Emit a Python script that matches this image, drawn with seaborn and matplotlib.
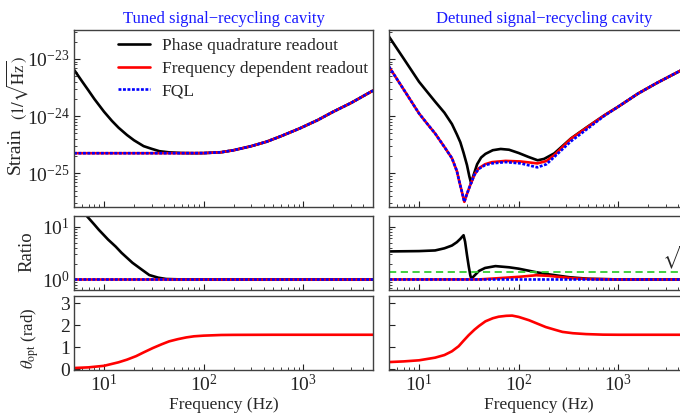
import matplotlib
matplotlib.use('Agg')
import numpy as np
import seaborn as sns
import matplotlib.pyplot as plt
from matplotlib.ticker import LogLocator, NullFormatter, FixedLocator

sns.set_theme(style='ticks')
plt.rcParams['font.family'] = ['Liberation Serif', 'DejaVu Serif']
plt.rcParams['mathtext.fontset'] = 'stix'

# ---- strain, tuned cavity ----
tuned_f_phase = [5, 6, 7, 8, 10, 12, 14, 17, 20, 25, 30, 36, 45, 60, 80, 100, 150, 200, 300, 430, 600, 935, 1400, 2000, 3000, 5000]
tuned_phase = [6.5e-24, 4.1e-24, 2.8e-24, 2.0e-24, 1.2e-24, 8.3e-25, 6.3e-25, 4.7e-25, 3.8e-25, 3.0e-25, 2.7e-25, 2.45e-25,
               2.34e-25, 2.28e-25, 2.26e-25, 2.27e-25, 2.35e-25, 2.55e-25, 3.0e-25, 3.6e-25, 4.5e-25, 6.2e-25, 8.6e-25,
               1.2e-24, 1.7e-24, 2.8e-24]
tuned_f = [5, 10, 20, 50, 100, 150, 200, 300, 430, 600, 935, 1400, 2000, 3000, 5000]
tuned_fdr = [2.26e-25, 2.26e-25, 2.26e-25, 2.26e-25, 2.27e-25, 2.35e-25, 2.55e-25, 3.0e-25, 3.6e-25, 4.5e-25, 6.2e-25,
             8.6e-25, 1.2e-24, 1.7e-24, 2.8e-24]
tuned_fql = [2.26e-25, 2.26e-25, 2.26e-25, 2.26e-25, 2.27e-25, 2.35e-25, 2.55e-25, 3.0e-25, 3.6e-25, 4.5e-25, 6.2e-25,
             8.6e-25, 1.2e-24, 1.7e-24, 2.8e-24]

# ---- strain, detuned cavity ----
det_f_phase = [5, 7, 10, 12, 14.5, 18, 21.4, 24, 26, 28, 30.3, 32, 33.3, 35, 38.3, 42, 46.4, 55, 66, 80, 100, 125, 155,
               180, 228, 335, 500, 726, 1000, 1585, 2500, 5000]
det_phase = [2.45e-23, 1.02e-23, 4.0e-24, 2.7e-24, 1.8e-24, 1.15e-24, 7.3e-25, 4.8e-25, 3.5e-25, 2.3e-25, 1.4e-25, 8.9e-26,
             6.8e-26, 9.0e-26, 1.45e-25, 1.9e-25, 2.2e-25, 2.55e-25, 2.68e-25, 2.6e-25, 2.28e-25, 1.95e-25, 1.7e-25,
             1.8e-25, 2.25e-25, 4.1e-25, 6.7e-25, 1.04e-24, 1.47e-24, 2.5e-24, 3.9e-24, 7.3e-24]
det_f = [5, 7, 10, 12, 14.5, 18, 21.4, 24, 25.4, 27, 28.5, 30, 32.7, 36, 39.7, 46, 54, 74, 105, 154, 190, 228, 335, 500,
         726, 1000, 1585, 2500, 5000]
det_fdr = [7.3e-24, 2.95e-24, 1.12e-24, 7.5e-25, 5.0e-25, 2.9e-25, 1.85e-25, 1.1e-25, 7.2e-26, 4.7e-26, 3.2e-26, 4.2e-26,
           6.3e-26, 9.5e-26, 1.23e-25, 1.45e-25, 1.58e-25, 1.66e-25, 1.62e-25, 1.5e-25, 1.65e-25, 2.1e-25, 4.05e-25,
           6.6e-25, 1.04e-24, 1.47e-24, 2.5e-24, 3.9e-24, 7.3e-24]
det_fql = [7.3e-24, 2.95e-24, 1.12e-24, 7.5e-25, 5.0e-25, 2.9e-25, 1.85e-25, 1.1e-25, 7.2e-26, 4.7e-26, 3.2e-26, 4.2e-26,
           6.3e-26, 9.5e-26, 1.2e-25, 1.4e-25, 1.5e-25, 1.58e-25, 1.5e-25, 1.28e-25, 1.45e-25, 1.95e-25, 3.65e-25,
           6.2e-25, 1.02e-24, 1.47e-24, 2.5e-24, 3.9e-24, 7.3e-24]

# ---- ratio to FQL ----
tuned_rf_phase = [5, 6, 6.6, 8, 8.9, 10, 11, 13.1, 15, 19.3, 24, 28.5, 35, 42, 50, 60, 100, 1000, 5000]
tuned_r_phase = [30, 20, 16.6, 11, 8.7, 6.9, 5.7, 4.2, 3.2, 2.07, 1.53, 1.21, 1.08, 1.02, 1.01, 1.0, 1.0, 1.0, 1.0]
tuned_rf = [5, 5000]
tuned_r_fdr = [1.0, 1.0]
tuned_r_fql = [1.0, 1.0]

det_rf_phase = [5, 10, 14.5, 18, 21.4, 24, 26, 27, 28, 29, 30.3, 31.5, 32.7, 33.5, 35, 40, 46, 58.5, 80, 100, 147, 200,
                323, 500, 1000, 5000]
det_r_phase = [3.4, 3.45, 3.55, 3.9, 4.4, 5.1, 5.9, 6.4, 6.9, 5.2, 2.9, 1.8, 1.2, 1.03, 1.12, 1.45, 1.65, 1.79, 1.7,
               1.6, 1.38, 1.25, 1.1, 1.03, 1.0, 1.0]
det_rf_fdr = [5, 40, 60, 100, 150, 200, 250, 350, 500, 1000, 5000]
det_r_fdr = [1.0, 1.0, 1.05, 1.12, 1.2, 1.17, 1.12, 1.05, 1.02, 1.0, 1.0]
det_rf_fql = [5, 5000]
det_r_fql = [1.0, 1.0]
sqrt2_level = np.sqrt(2)

# ---- optimal readout angle ----
tuned_tf = [5, 7, 10, 14, 17, 21, 25, 31, 38, 45, 55, 67, 80, 100, 150, 200, 500, 5000]
tuned_theta = [0.06, 0.09, 0.16, 0.32, 0.44, 0.6, 0.77, 0.97, 1.14, 1.27, 1.37, 1.45, 1.5, 1.53, 1.56, 1.565, 1.57, 1.57]
det_tf = [5, 7, 10, 14.5, 18, 21.4, 25, 28, 31.5, 36, 40, 46.4, 55, 63, 75, 86, 100, 127, 155, 187, 230, 275, 350, 475,
          700, 1000, 5000]
det_theta = [0.33, 0.36, 0.41, 0.53, 0.65, 0.82, 1.05, 1.3, 1.55, 1.8, 1.97, 2.18, 2.32, 2.39, 2.43, 2.44, 2.38, 2.23,
             2.07, 1.92, 1.8, 1.7, 1.64, 1.6, 1.575, 1.57, 1.57]

# tick positions
freq_ticks = [10, 100, 1000]
strain_ticks = [1e-25, 1e-24, 1e-23]
ratio_ticks = [1, 10]
theta_ticks = [0, 1, 2, 3]

titles = ['Tuned signal\u2212recycling cavity', 'Detuned signal\u2212recycling cavity']
legend_labels = ['Phase quadrature readout', 'Frequency dependent readout', 'FQL']

fig = plt.figure(figsize=(6.8, 4.15), dpi=100)
W, H = 680, 415
lefts = [74, 389]
aw = 299
rows = [(30, 207), (216, 290), (296, 370)]
axes = [[fig.add_axes([l / W, 1 - b / H, aw / W, (b - t) / H]) for (t, b) in rows] for l in lefts]

blue_dots = (0, (1.1, 0.6))
lw = 1.9

strain = [(tuned_f_phase, tuned_phase, tuned_f, tuned_fdr, tuned_f, tuned_fql),
          (det_f_phase, det_phase, det_f, det_fdr, det_f, det_fql)]
ratio = [(tuned_rf_phase, tuned_r_phase, tuned_rf, tuned_r_fdr, tuned_rf, tuned_r_fql),
         (det_rf_phase, det_r_phase, det_rf_fdr, det_r_fdr, det_rf_fql, det_r_fql)]
theta = [(tuned_tf, tuned_theta), (det_tf, det_theta)]

for c in range(2):
    a0, a1, a2 = axes[c]
    for ax, d in ((a0, strain[c]), (a1, ratio[c])):
        ax.set_xscale('log')
        ax.set_yscale('log')
        sns.lineplot(x=d[0], y=d[1], ax=ax, color='black', lw=lw, label=legend_labels[0])
        sns.lineplot(x=d[2], y=d[3], ax=ax, color='red', lw=lw, label=legend_labels[1])
        sns.lineplot(x=d[4], y=d[5], ax=ax, color='blue', lw=lw, linestyle=blue_dots, label=legend_labels[2])
    a2.set_xscale('log')
    sns.lineplot(x=theta[c][0], y=theta[c][1], ax=a2, color='red', lw=lw)

    a0.set_ylim(2.6e-26, 3.2e-23)
    a1.set_ylim(0.63, 16)
    a2.set_ylim(-0.03, 3.33)
    a0.yaxis.set_major_locator(FixedLocator(strain_ticks))
    a1.yaxis.set_major_locator(FixedLocator(ratio_ticks))
    a2.yaxis.set_major_locator(FixedLocator(theta_ticks))
    a0.set_title(titles[c], color='#1a1aff', fontsize=12, pad=5, x=0.5 if c == 0 else 0.52)
    for ax in (a0, a1, a2):
        ax.set_xlim(5, 5000)
        ax.xaxis.set_major_locator(FixedLocator(freq_ticks))
        ax.xaxis.set_minor_locator(LogLocator(subs=np.arange(2, 10)))
        ax.set_xlabel('')
        ax.set_ylabel('')
        ax.tick_params(which='both', direction='in', labelsize=14, colors='#222222', top=False, right=False)
        ax.tick_params(which='major', length=4, width=0.8, pad=3)
        ax.tick_params(which='minor', length=2, width=0.6)
        ax.xaxis.set_minor_formatter(NullFormatter())
        for s in ax.spines.values():
            s.set_color('#404040')
            s.set_linewidth(1.0)
    for ax in (a0, a1):
        ax.yaxis.set_minor_locator(LogLocator(subs=np.arange(2, 10)))
        ax.yaxis.set_minor_formatter(NullFormatter())
        ax.tick_params(labelbottom=False)
        if ax.get_legend() is not None:
            ax.get_legend().remove()
    a2.set_xlabel('Frequency (Hz)', fontsize=12.5, labelpad=1)
    if c == 1:
        for ax in (a0, a1, a2):
            ax.tick_params(labelleft=False)

# sqrt(2) reference in detuned ratio panel
axes[1][1].axhline(sqrt2_level, color='#33cc33', lw=1.3, ls=(0, (4, 2.5)))
axes[1][1].text(2750, sqrt2_level * 1.02, r'$\sqrt{2}$', fontsize=13, ha='left', va='bottom')

axes[0][0].legend(loc='upper left', bbox_to_anchor=(0.125, 0.995), frameon=False, fontsize=12.5,
                  handlelength=1.8, handletextpad=0.7, labelspacing=0.38, borderaxespad=0)

fig.text(15 / W, 1 - 151 / H, 'Strain', rotation=90, ha='center', va='center', fontsize=14)
fig.text(17 / W, 1 - 88 / H, r'$(1/\sqrt{\mathrm{Hz}})$', rotation=90, ha='center', va='center', fontsize=12)
fig.text(27 / W, 1 - 252 / H, 'Ratio', rotation=90, ha='center', va='center', fontsize=13.5)
fig.text(30 / W, 1 - 338 / H, r'$\theta_{\mathrm{opt}}$ (rad)', rotation=90, ha='center', va='center', fontsize=12)

fig.savefig('out.png', dpi=100)
